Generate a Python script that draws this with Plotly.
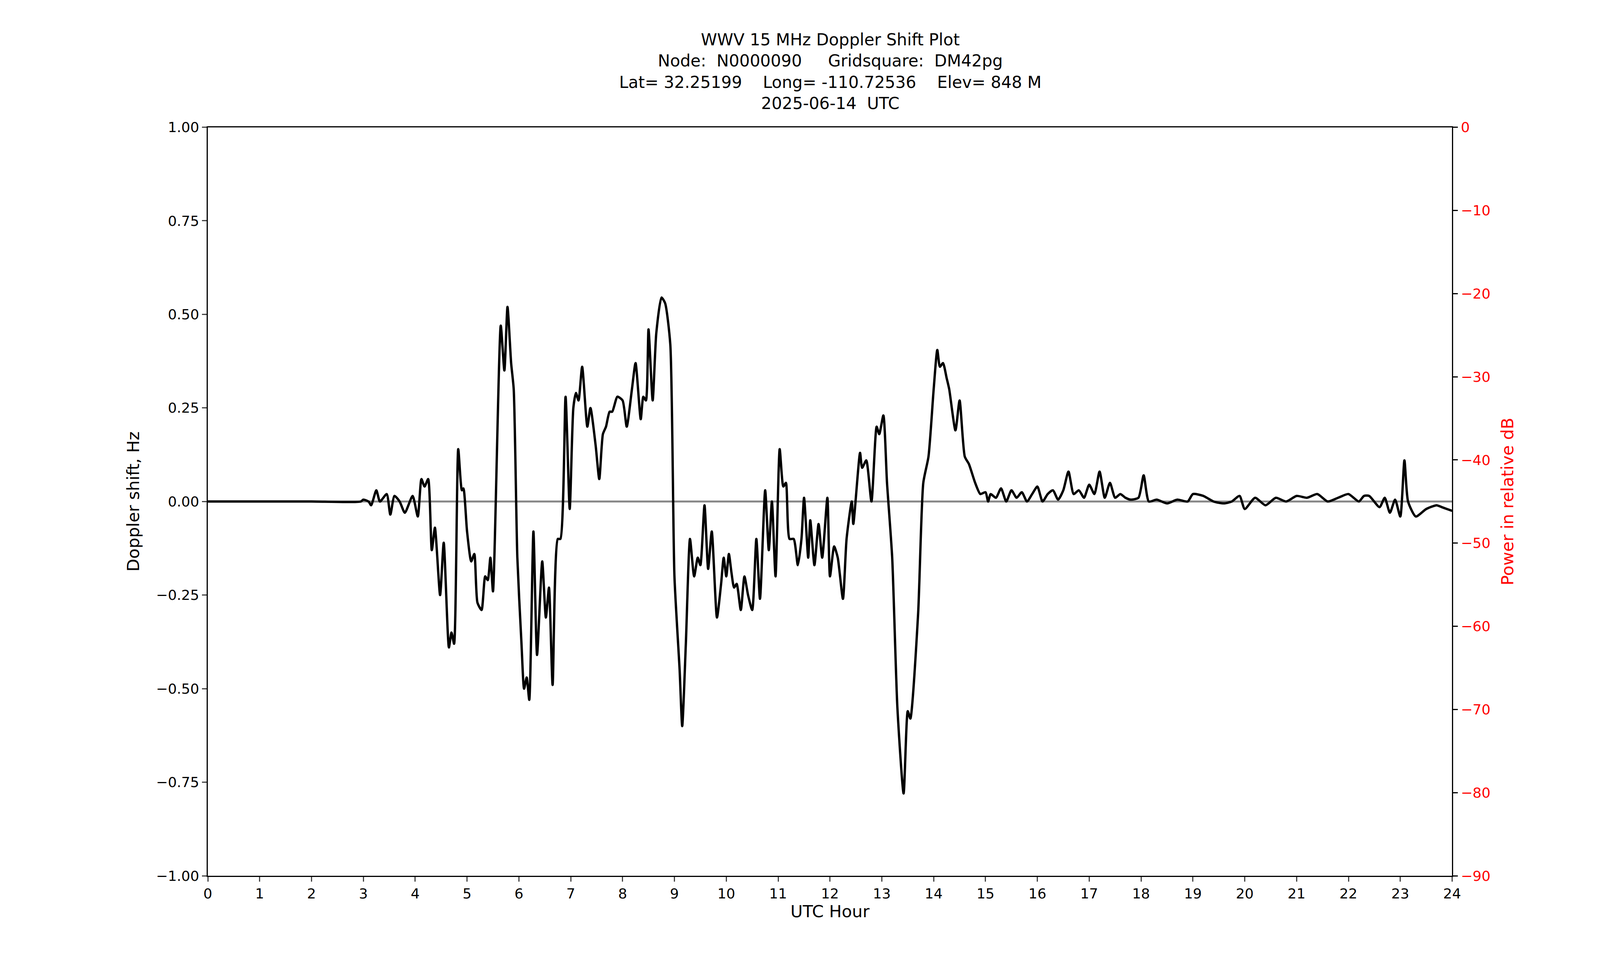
import plotly.graph_objects as go

# UTC hour / doppler shift (Hz)
hours = [0, 1, 2, 2.95, 3.0, 3.1, 3.15, 3.25, 3.32, 3.45, 3.52, 3.6, 3.7, 3.8, 3.95, 4.05, 4.12, 4.18, 4.25,
         4.32, 4.38, 4.48, 4.55, 4.65, 4.7, 4.75, 4.83, 4.9, 4.93, 5.0, 5.08, 5.14, 5.2, 5.28, 5.35, 5.4, 5.45,
         5.5, 5.65, 5.72, 5.78, 5.85, 5.9, 5.97, 6.05, 6.1, 6.15, 6.2, 6.28, 6.35, 6.45, 6.52, 6.58, 6.65, 6.75,
         6.8, 6.9, 6.98, 7.05, 7.1, 7.15, 7.22, 7.32, 7.38, 7.48, 7.55, 7.62, 7.68, 7.75, 7.8, 7.9, 8.0, 8.08,
         8.18, 8.25, 8.35, 8.4, 8.45, 8.5, 8.58, 8.65, 8.75, 8.82, 8.92, 9.0, 9.1, 9.15, 9.22, 9.3, 9.38, 9.45,
         9.5, 9.58, 9.65, 9.72, 9.82, 9.9, 9.95, 10.0, 10.05, 10.1, 10.15, 10.2, 10.28, 10.35, 10.42, 10.5,
         10.58, 10.65, 10.75, 10.82, 10.88, 10.95, 11.03, 11.1, 11.15, 11.22, 11.3, 11.38, 11.45, 11.5, 11.58,
         11.62, 11.7, 11.78, 11.85, 11.95, 12.0, 12.08, 12.15, 12.25, 12.32, 12.42, 12.45, 12.58, 12.62, 12.7,
         12.8, 12.9, 12.95, 13.03, 13.1, 13.2, 13.3, 13.42, 13.5, 13.55, 13.7, 13.8, 13.9, 14.0, 14.07, 14.12,
         14.18, 14.25, 14.3, 14.42, 14.5, 14.6, 14.68, 14.8, 14.9, 15.0, 15.05, 15.1, 15.2, 15.3, 15.4, 15.5,
         15.6, 15.7, 15.8, 15.9, 16.0, 16.1, 16.2, 16.3, 16.4, 16.5, 16.6, 16.7, 16.8, 16.9, 17.0, 17.1, 17.2,
         17.3, 17.4, 17.5, 17.6, 17.7, 17.8, 17.95, 18.05, 18.15, 18.3, 18.5, 18.7, 18.9, 19.0, 19.2, 19.4,
         19.6, 19.75, 19.9, 20.0, 20.2, 20.4, 20.6, 20.8, 21.0, 21.2, 21.4, 21.6, 21.8, 22.0, 22.2, 22.3,
         22.4, 22.6, 22.7, 22.8, 22.9, 23.0, 23.08, 23.15, 23.3, 23.5, 23.7, 23.8, 23.9, 24.0]
doppler = [0, 0, 0, 0, 0.005, 0.0, -0.01, 0.03, 0.0, 0.02, -0.035, 0.015, 0.0, -0.03, 0.015, -0.04, 0.06,
           0.04, 0.06, -0.13, -0.07, -0.25, -0.11, -0.39, -0.35, -0.38, 0.14, 0.03, 0.035, -0.08, -0.16,
           -0.14, -0.27, -0.29, -0.2, -0.21, -0.15, -0.24, 0.47, 0.35, 0.52, 0.37, 0.3, -0.15, -0.38, -0.5,
           -0.47, -0.53, -0.08, -0.41, -0.16, -0.31, -0.23, -0.49, -0.1, -0.1, 0.28, -0.02, 0.25, 0.29, 0.27,
           0.36, 0.2, 0.25, 0.15, 0.06, 0.18, 0.2, 0.24, 0.24, 0.28, 0.27, 0.2, 0.3, 0.37, 0.22, 0.28, 0.27,
           0.46, 0.27, 0.45, 0.545, 0.53, 0.42, -0.2, -0.45, -0.6, -0.38, -0.1, -0.2, -0.15, -0.17, -0.01,
           -0.18, -0.08, -0.31, -0.22, -0.15, -0.2, -0.14, -0.19, -0.23, -0.22, -0.29, -0.2, -0.25, -0.29,
           -0.1, -0.26, 0.03, -0.13, 0.0, -0.2, 0.14, 0.04, 0.05, -0.1, -0.1, -0.17, -0.1, 0.01, -0.15,
           -0.05, -0.17, -0.06, -0.15, 0.01, -0.2, -0.12, -0.15, -0.26, -0.1, 0.0, -0.06, 0.13, 0.09, 0.11,
           0.0, 0.2, 0.18, 0.23, 0.05, -0.15, -0.55, -0.78, -0.56, -0.58, -0.3, 0.05, 0.12, 0.3, 0.405,
           0.36, 0.37, 0.33, 0.3, 0.19, 0.27, 0.12, 0.1, 0.05, 0.02, 0.025, 0.0, 0.02, 0.01, 0.035, 0.0,
           0.03, 0.01, 0.025, 0.0, 0.02, 0.04, 0.0, 0.02, 0.03, 0.005, 0.03, 0.08, 0.02, 0.03, 0.01, 0.045,
           0.02, 0.08, 0.01, 0.05, 0.01, 0.02, 0.01, 0.005, 0.01, 0.07, 0.0, 0.005, -0.005, 0.005, 0.0,
           0.02, 0.015, 0.0, -0.005, 0.0, 0.015, -0.02, 0.01, -0.01, 0.01, 0.0, 0.015, 0.01, 0.02, 0.0,
           0.01, 0.02, 0.0, 0.015, 0.015, -0.015, 0.01, -0.03, 0.005, -0.04, 0.11, 0.0, -0.04, -0.02,
           -0.01, -0.015, -0.02, -0.025, -0.02]

x_ticks = list(range(0, 25))
power_ticks = list(range(0, -91, -10))

fig = go.Figure()
fig.add_trace(go.Scatter(x=[0, 24], y=[0, 0], mode="lines",
                         line=dict(color="#888888", width=5), showlegend=False))
fig.add_trace(go.Scatter(x=hours, y=doppler, mode="lines",
                         line=dict(color="black", width=6, shape="spline", smoothing=0.6),
                         showlegend=False))
fig.add_trace(go.Scatter(x=[None], y=[None], yaxis="y2", showlegend=False))

font = dict(family="DejaVu Sans", size=36, color="black")
fig.update_layout(
    autosize=True, plot_bgcolor="white", paper_bgcolor="white",
    margin=dict(l=0, r=0, t=0, b=0), font=font,
    title=dict(text="WWV 15 MHz Doppler Shift Plot<br>Node:  N0000090     Gridsquare:  DM42pg<br>"
                    "Lat= 32.25199    Long= -110.72536    Elev= 848 M<br>2025-06-14  UTC",
               x=0.517, xanchor="center", y=0.957, yanchor="top", font=dict(size=42)),
    xaxis=dict(domain=[0.1263, 0.9105], range=[0, 24], tickvals=x_ticks, ticks="outside", ticklen=12,
               tickwidth=3, showline=True, linecolor="black", linewidth=3, mirror=True, showgrid=False,
               zeroline=False, title=dict(text="UTC Hour", standoff=10)),
    yaxis=dict(domain=[0.1, 0.879], range=[-1, 1], dtick=0.25, tickformat=".2f", ticks="outside",
               ticklen=12, tickwidth=3, showline=True, linecolor="black", linewidth=3, mirror=True,
               showgrid=False, zeroline=False, title=dict(text="Doppler shift, Hz", standoff=30)),
    yaxis2=dict(range=[-90, 0], tickvals=power_ticks, overlaying="y", side="right", ticks="outside",
                ticklen=12, tickwidth=3, tickcolor="black", showline=True, linecolor="black",
                linewidth=3, showgrid=False, zeroline=False, tickfont=dict(color="red"),
                title=dict(text="Power in relative dB", font=dict(color="red"), standoff=30)),
)
fig.write_html("out.html", default_width="100vw", default_height="100vh")
